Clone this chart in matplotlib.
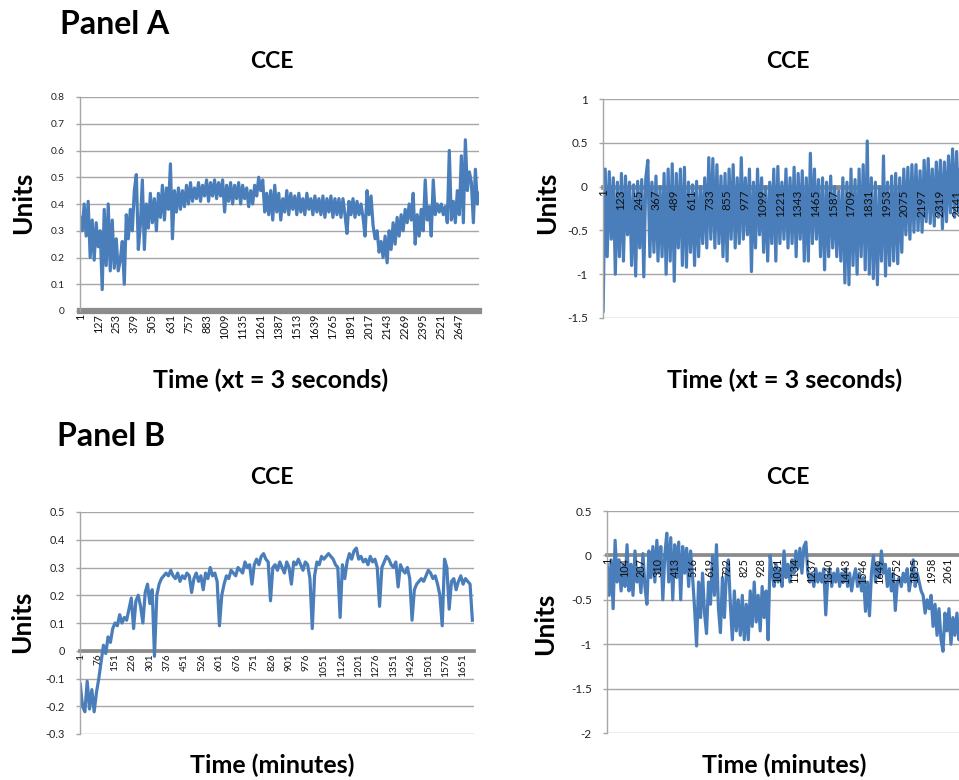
import matplotlib
matplotlib.use("Agg")
import matplotlib.pyplot as plt
import numpy as np

plt.rcParams['font.family'] = ['Lato', 'DejaVu Sans']

W, H = 959, 780

# ---------------- data ----------------
# Panel A, left chart (every 14th sample)
a1_step = 14
a1_values = [
    0.35, 0.30, 0.40, 0.28, 0.41, 0.20, 0.34, 0.19, 0.33, 0.24,
    0.30, 0.08, 0.38, 0.17, 0.40, 0.15, 0.34, 0.16, 0.27, 0.15,
    0.19, 0.26, 0.10, 0.36, 0.27, 0.38, 0.30, 0.45, 0.51, 0.23,
    0.32, 0.49, 0.23, 0.40, 0.31, 0.44, 0.33, 0.42, 0.30, 0.44,
    0.35, 0.47, 0.34, 0.46, 0.38, 0.55, 0.27, 0.45, 0.37, 0.46,
    0.38, 0.45, 0.39, 0.47, 0.40, 0.48, 0.41, 0.46, 0.42, 0.48,
    0.41, 0.47, 0.43, 0.49, 0.41, 0.48, 0.43, 0.49, 0.42, 0.48,
    0.43, 0.49, 0.37, 0.47, 0.41, 0.48, 0.40, 0.47, 0.42, 0.48,
    0.40, 0.47, 0.42, 0.46, 0.39, 0.45, 0.40, 0.47, 0.43, 0.50,
    0.45, 0.49, 0.37, 0.44, 0.36, 0.45, 0.34, 0.47, 0.37, 0.44,
    0.34, 0.42, 0.37, 0.45, 0.36, 0.44, 0.38, 0.43, 0.36, 0.44,
    0.37, 0.42, 0.36, 0.44, 0.38, 0.42, 0.36, 0.43, 0.37, 0.42,
    0.36, 0.43, 0.35, 0.42, 0.37, 0.43, 0.35, 0.42, 0.36, 0.42,
    0.35, 0.42, 0.36, 0.29, 0.41, 0.36, 0.42, 0.35, 0.41, 0.36,
    0.40, 0.35, 0.28, 0.45, 0.36, 0.43, 0.32, 0.27, 0.30, 0.22,
    0.26, 0.20, 0.28, 0.18, 0.30, 0.23, 0.33, 0.25, 0.35, 0.28,
    0.36, 0.30, 0.38, 0.33, 0.40, 0.34, 0.44, 0.25, 0.36, 0.28,
    0.38, 0.30, 0.49, 0.34, 0.39, 0.28, 0.49, 0.36, 0.40, 0.37,
    0.40, 0.36, 0.39, 0.33, 0.60, 0.34, 0.41, 0.33, 0.45, 0.36,
    0.58, 0.33, 0.64, 0.45, 0.52, 0.48, 0.33, 0.53, 0.40, 0.44,
]
a1_xticks = [1, 127, 253, 379, 505, 631, 757, 883, 1009, 1135, 1261, 1387,
             1513, 1639, 1765, 1891, 2017, 2143, 2269, 2395, 2521, 2647]
a1_yticks = [0, 0.1, 0.2, 0.3, 0.4, 0.5, 0.6, 0.7, 0.8]

# Panel A, right chart (every 14th sample)
a2_step = 14
a2_values = [
    -1.42, 0.20, -0.80, 0.17, -0.60, 0.10, -1.00, 0.05, -0.80, 0.15,
    -0.85, 0.12, -0.55, 0.05, -0.90, 0.02, -1.02, 0.06, -0.70, 0.08,
    -1.03, 0.10, 0.30, -0.80, 0.05, -0.75, 0.12, -0.85, 0.00, -0.80,
    0.15, -1.00, 0.20, -0.85, 0.26, -1.08, 0.15, -0.70, 0.20, -0.90,
    0.22, -0.92, 0.05, -0.75, 0.02, -0.90, 0.06, -0.80, 0.00, -0.65,
    0.10, -0.70, 0.33, -0.60, 0.32, -0.70, 0.25, -0.65, 0.12, -0.80,
    0.15, -0.85, 0.20, -0.60, 0.25, -0.70, 0.10, -0.65, 0.33, -0.60,
    0.10, -0.55, 0.20, -0.97, 0.05, -0.70, 0.20, -0.55, 0.10, -0.75,
    0.00, -0.85, 0.05, -0.65, 0.20, -0.85, 0.23, -0.65, 0.05, -0.60,
    0.20, -0.70, 0.10, -0.65, 0.22, -0.80, 0.15, -0.60, 0.18, -0.85,
    0.10, -0.85, 0.38, -0.65, 0.20, -0.60, 0.08, -0.80, 0.10, -0.95,
    0.05, -0.80, 0.12, -0.70, 0.00, -0.80, -0.05, -0.85, 0.10, -1.10,
    0.05, -1.12, 0.20, -0.90, 0.08, -1.00, 0.20, -0.80, 0.25, -0.95,
    0.52, -1.00, 0.10, -1.05, 0.05, -1.12, 0.00, -0.85, 0.35, -1.02,
    0.05, -0.90, 0.12, -0.85, 0.15, -0.88, 0.10, -0.75, 0.20, -0.55,
    0.22, -0.60, 0.25, -0.52, 0.25, -0.50, 0.18, -0.52, 0.30, -0.40,
    0.32, -0.42, 0.20, -0.45, 0.28, -0.35, 0.30, -0.48, 0.28, -0.40,
    0.35, -0.30, 0.43, -0.35, 0.40, -0.30, 0.45, -0.38, 0.42, -0.30,
]
a2_xticks = [1, 123, 245, 367, 489, 611, 733, 855, 977, 1099, 1221, 1343,
             1465, 1587, 1709, 1831, 1953, 2075, 2197, 2319, 2441]
a2_yticks = [-1.5, -1, -0.5, 0, 0.5, 1]

# Panel B, left chart (every 10th sample)
b1_step = 10
b1_values = [
    -0.12, -0.20, -0.22, -0.11, -0.21, -0.14, -0.22, -0.15, -0.10, -0.04,
    0.02, -0.01, 0.05, 0.03, 0.08, 0.10, 0.09, 0.13, 0.10, 0.12,
    0.11, 0.15, 0.19, 0.08, 0.18, 0.20, 0.16, 0.10, 0.21, 0.24,
    0.17, 0.22, -0.02, 0.20, 0.24, 0.26, 0.27, 0.28, 0.27, 0.29,
    0.27, 0.26, 0.28, 0.25, 0.27, 0.26, 0.28, 0.27, 0.21, 0.26,
    0.28, 0.25, 0.27, 0.22, 0.28, 0.26, 0.30, 0.27, 0.28, 0.25,
    0.09, 0.20, 0.24, 0.27, 0.26, 0.29, 0.28, 0.27, 0.30, 0.29,
    0.28, 0.32, 0.30, 0.31, 0.24, 0.31, 0.33, 0.31, 0.34, 0.35,
    0.33, 0.32, 0.18, 0.30, 0.31, 0.29, 0.32, 0.30, 0.28, 0.32,
    0.30, 0.24, 0.32, 0.31, 0.33, 0.31, 0.29, 0.32, 0.31, 0.26,
    0.08, 0.27, 0.32, 0.31, 0.34, 0.33, 0.34, 0.35, 0.34, 0.33,
    0.31, 0.30, 0.12, 0.31, 0.26, 0.32, 0.35, 0.33, 0.36, 0.37,
    0.33, 0.34, 0.32, 0.33, 0.31, 0.34, 0.32, 0.33, 0.30, 0.16,
    0.30, 0.32, 0.34, 0.33, 0.31, 0.30, 0.32, 0.23, 0.31, 0.29,
    0.28, 0.30, 0.26, 0.11, 0.22, 0.24, 0.25, 0.26, 0.25, 0.27,
    0.29, 0.28, 0.26, 0.27, 0.24, 0.20, 0.09, 0.33, 0.30, 0.15,
    0.25, 0.26, 0.22, 0.25, 0.27, 0.24, 0.26, 0.25, 0.24, 0.11,
]
b1_xticks = [1, 76, 151, 226, 301, 376, 451, 526, 601, 676, 751, 826, 901,
             976, 1051, 1126, 1201, 1276, 1351, 1426, 1501, 1576, 1651]
b1_yticks = [-0.3, -0.2, -0.1, 0, 0.1, 0.2, 0.3, 0.4, 0.5]

# Panel B, right chart (every 12th sample)
b2_step = 12
b2_values = [
    -0.10, -0.45, -0.05, -0.60, 0.17, -0.30, -0.05, -0.40, -0.10, -0.35,
    0.12, -0.40, -0.10, -0.45, 0.05, -0.30, -0.15, -0.42, 0.02, -0.35,
    -0.55, 0.05, -0.25, 0.10, -0.30, 0.17, -0.20, 0.10, -0.50, 0.00,
    0.25, -0.30, 0.20, -0.50, 0.12, -0.25, 0.15, -0.50, 0.10, -0.20,
    0.08, -0.35, 0.05, -0.25, -0.60, -1.02, -0.30, -0.70, -0.20, -0.65,
    -0.88, -0.30, -0.55, 0.00, -0.45, 0.12, -0.60, -0.87, -0.25, -0.70,
    -0.20, -0.05, -0.55, -0.95, -0.40, -0.85, -0.50, -0.90, -0.45, -0.95,
    -0.55, -0.95, -0.40, -0.80, -0.30, -0.75, -0.45, -0.85, -0.35, -0.70,
    -0.40, -0.95, 0.00, -0.20, -0.35, -0.10, -0.30, -0.15, -0.35, 0.05,
    -0.25, -0.10, -0.30, -0.05, -0.20, 0.05, -0.15, 0.08, -0.20, 0.10,
    0.15, -0.20, -0.30, -0.20, -0.35, -0.15, -0.30, -0.20, -0.30, -0.15,
    -0.67, -0.25, -0.15, -0.35, -0.20, -0.30, -0.15, -0.35, -0.20, -0.30,
    -0.15, -0.35, -0.20, -0.40, -0.25, -0.15, -0.35, -0.20, -0.40, -0.25,
    -0.63, -0.30, -0.68, -0.20, 0.00, -0.30, -0.10, -0.25, 0.05, -0.20,
    -0.10, -0.35, -0.15, -0.40, -0.20, -0.62, -0.30, -0.25, -0.35, -0.20,
    -0.30, -0.15, -0.40, -0.25, -0.05, -0.35, -0.20, -0.30, -0.40, -0.45,
    -0.65, -0.50, -0.60, -0.45, -0.80, -0.55, -0.90, -0.60, -0.95, -1.08,
    -0.65, -0.85, -0.60, -1.00, -0.70, -0.90, -0.65, -0.95, -0.75, -0.85,
]
b2_xticks = [1, 104, 207, 310, 413, 516, 619, 722, 825, 928, 1031, 1134,
             1237, 1340, 1443, 1546, 1649, 1752, 1855, 1958, 2061]
b2_yticks = [-2, -1.5, -1, -0.5, 0, 0.5]

# ---------------- style ----------------
LINE = '#4a7ebb'
GRID = '#a6a6a6'
ZERO = '#8c8c8c'

fig = plt.figure(figsize=(W / 100, H / 100), dpi=100)


def px_axes(left, right, top, bottom):
    return fig.add_axes([left / W, 1 - bottom / H, (right - left) / W, (bottom - top) / H])


def draw(ax, values, step, xmax, yticks, xticks, xfs, yfs, zlw):
    # spines first (moving a spine resets the tick objects)
    ax.spines['top'].set_visible(False)
    ax.spines['right'].set_visible(False)
    ax.spines['left'].set_color(GRID)
    ax.spines['left'].set_linewidth(1)
    ax.spines['bottom'].set_position(('data', 0))
    ax.spines['bottom'].set_color(ZERO)
    ax.spines['bottom'].set_linewidth(zlw)
    ax.spines['bottom'].set_zorder(1.5)

    x = 1 + step * np.arange(len(values))
    ax.plot(x, values, color=LINE, lw=2.3, zorder=2)
    ax.set_xlim(0, xmax)
    ax.set_ylim(min(yticks), max(yticks))
    ax.set_yticks(yticks)
    ax.set_yticklabels(['{:g}'.format(v) for v in yticks])
    ax.set_xticks(xticks)
    ax.set_xticklabels([str(v) for v in xticks])
    ax.tick_params(axis='x', length=0, pad=2, labelrotation=90,
                   labelsize=xfs, labelcolor='#111111')
    ax.tick_params(axis='y', length=3, color=GRID, width=1, pad=8,
                   labelsize=yfs, labelcolor='#222222')
    ax.grid(axis='y', color=GRID, lw=1)
    ax.yaxis.set_zorder(1)
    ax.xaxis.set_zorder(3)
    ax.patch.set_alpha(0)


ax1 = px_axes(80, 479.4, 97, 311)
draw(ax1, a1_values, a1_step, 2787, a1_yticks, a1_xticks, 7.8, 7.3, 4.5)

ax2 = px_axes(603, 1003.5, 99, 318)
draw(ax2, a2_values, a2_step, 2760, a2_yticks, a2_xticks, 8.5, 8.5, 3.4)

ax3 = px_axes(80, 474, 512, 734)
draw(ax3, b1_values, b1_step, 1698, b1_yticks, b1_xticks, 7.3, 7.8, 2.7)

ax4 = px_axes(607, 1021, 511, 733)
draw(ax4, b2_values, b2_step, 2500, b2_yticks, b2_xticks, 7.8, 8.5, 2.7)


def ftext(x, y, s, size, **kw):
    fig.text(x / W, 1 - y / H, s, fontsize=size, fontweight='bold', **kw)


ftext(60, 24, 'Panel A', 23, ha='left', va='center')
ftext(57, 437, 'Panel B', 23, ha='left', va='center')
for cx, cy in [(272, 62), (788, 62), (272, 477), (788, 477)]:
    ftext(cx, cy, 'CCE', 16.5, ha='center', va='center')
for cx, cy in [(23, 203), (547, 203), (22, 622), (545, 624)]:
    ftext(cx, cy, 'Units', 19, ha='center', va='center', rotation=90)
ftext(271, 380, 'Time (xt = 3 seconds)', 18, ha='center', va='center')
ftext(785, 380, 'Time (xt = 3 seconds)', 18, ha='center', va='center')
ftext(272, 765, 'Time (minutes)', 18, ha='center', va='center')
ftext(784, 765, 'Time (minutes)', 18, ha='center', va='center')

fig.savefig('out.png', dpi=100)
